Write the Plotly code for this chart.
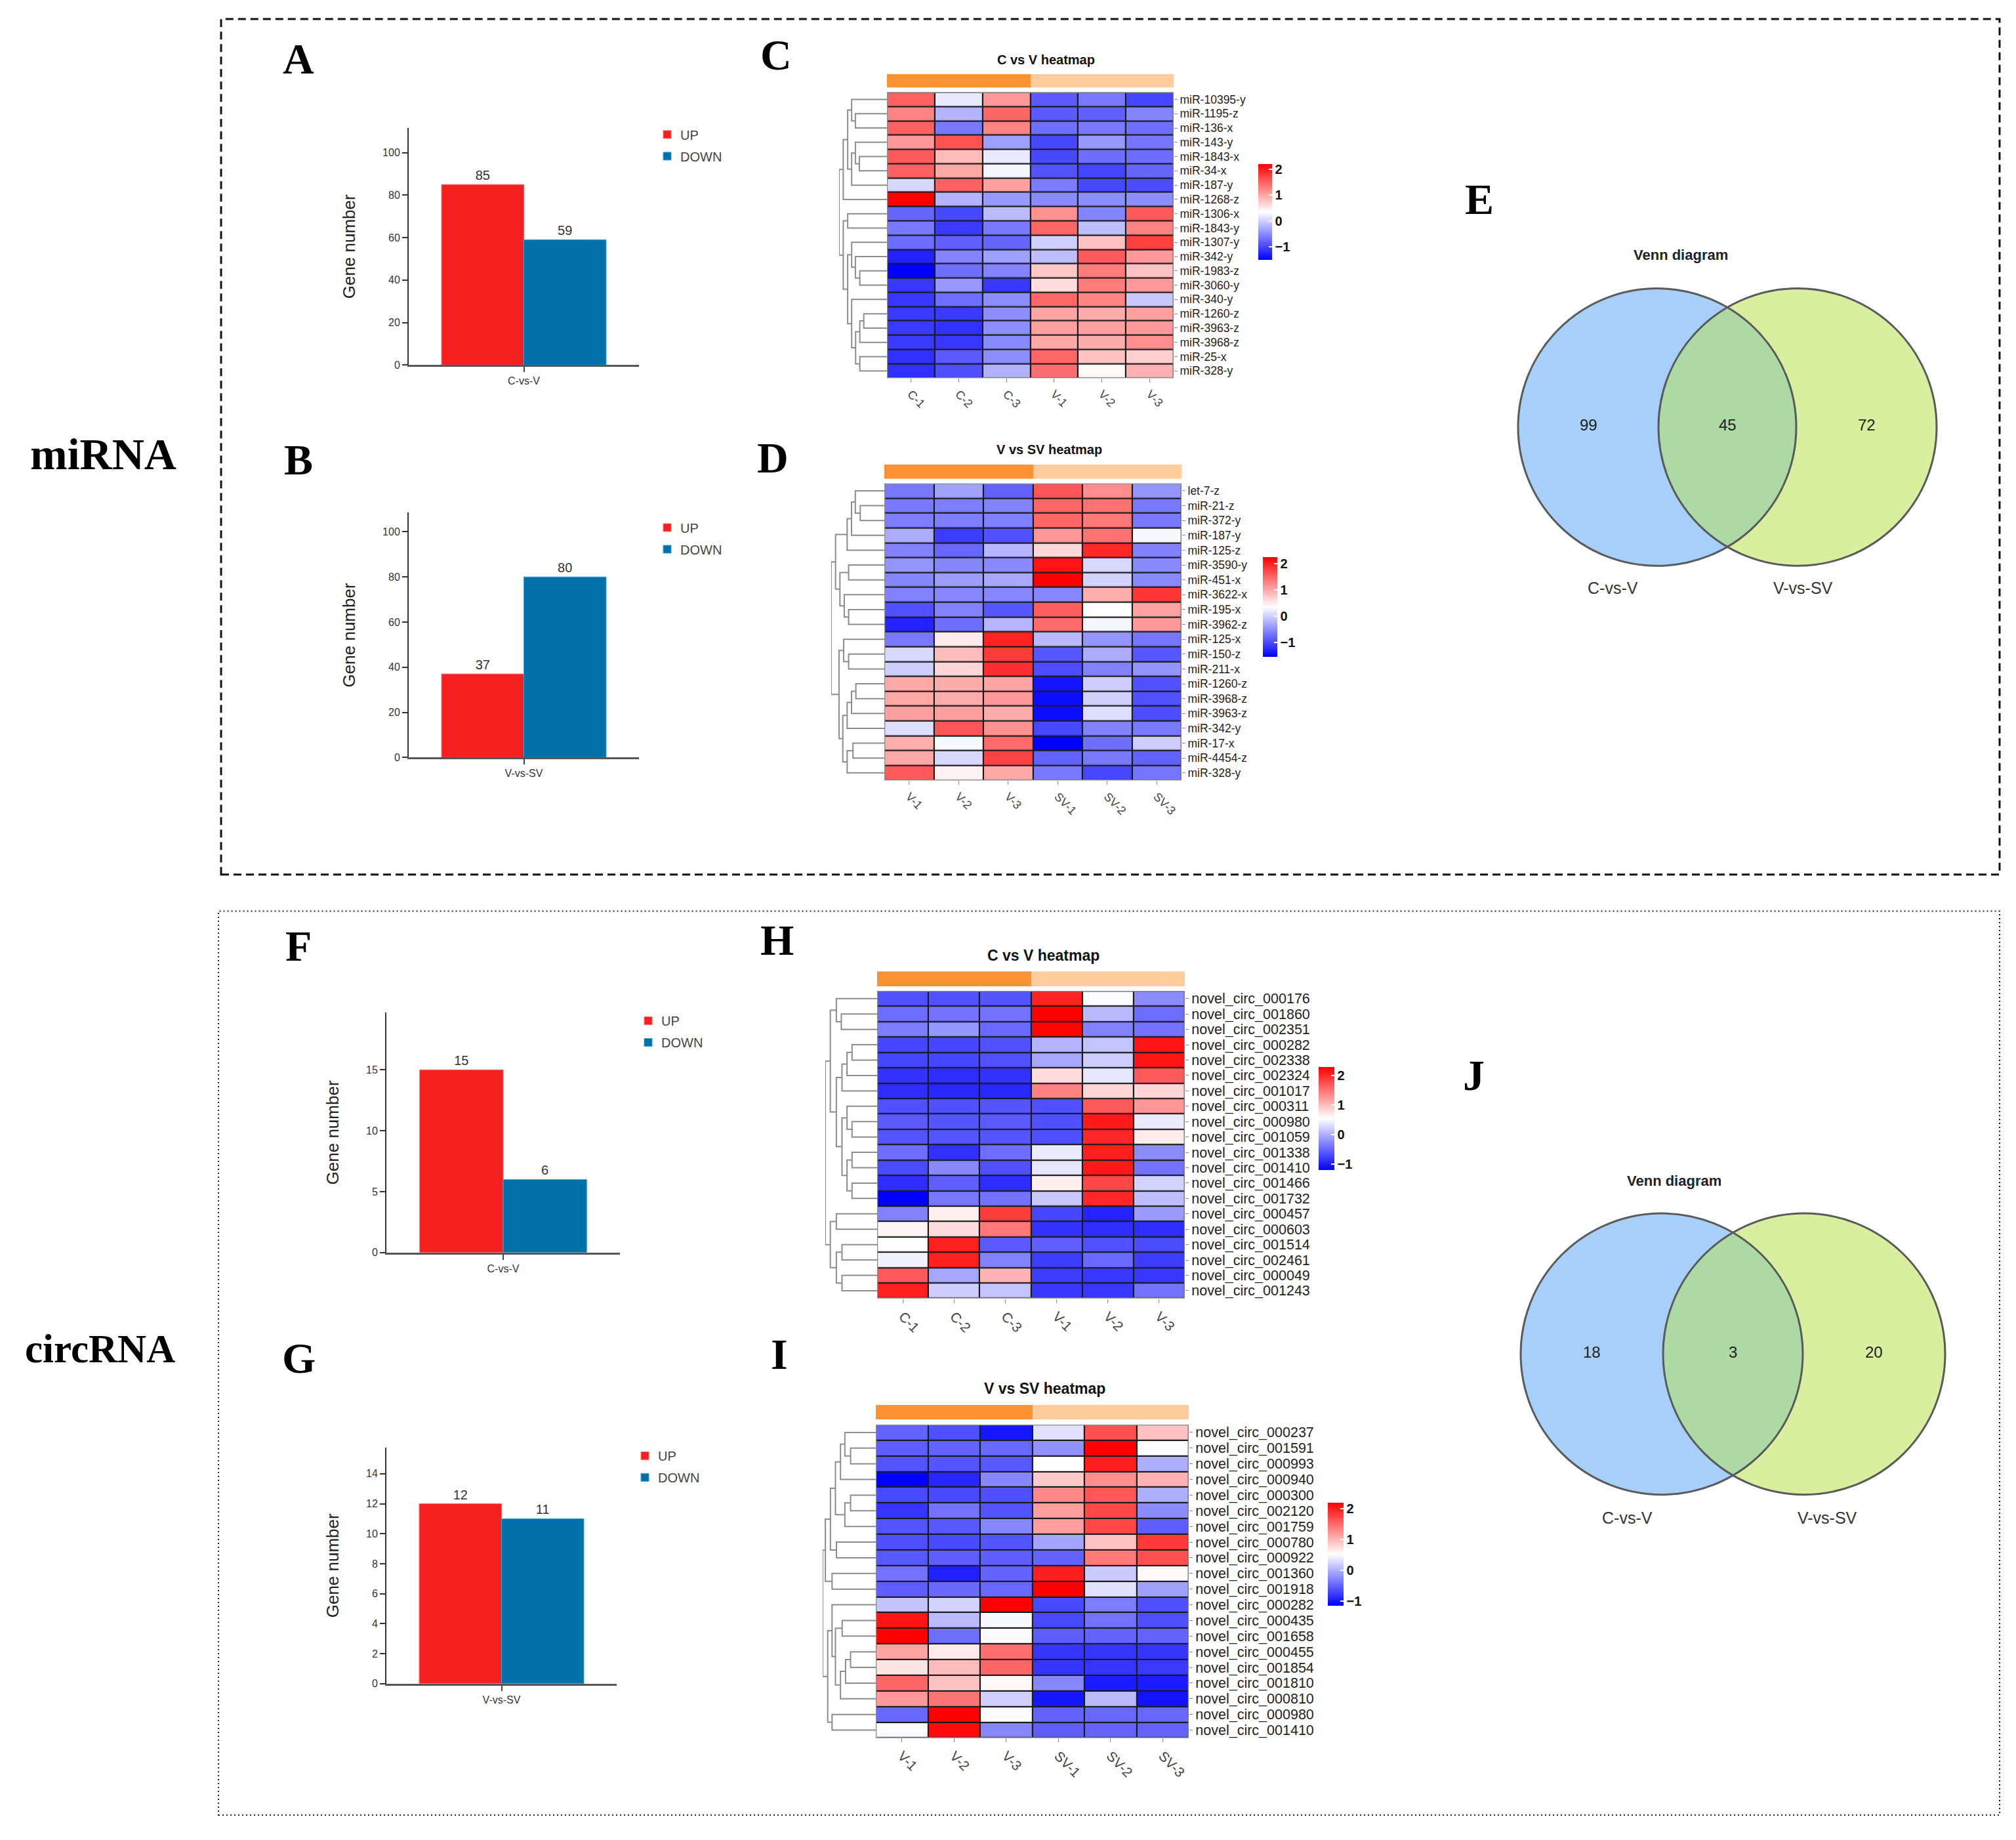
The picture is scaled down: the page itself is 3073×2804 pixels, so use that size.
import numpy as np
import plotly.graph_objects as go

W, H = 3073, 2804
OFF = 8                      # default page margin of the html body
FW, FH = W - 2 * OFF, H - 2 * OFF
def px(x): return (x - OFF) / FW
def py(y): return 1 - (y - OFF) / FH

FONT = "Liberation Sans, Arial, sans-serif"
SERIF = "Liberation Serif, Times New Roman, serif"

# ------------------------------------------------------------------ data
bar_groups = ["UP", "DOWN"]
bar_colors = ["#F41F1F", "#0070A8"]
bar_line_colors = ["#FF6E6E", "#3FA3D6"]
mirna_c_v_counts = [85, 59]
mirna_v_sv_counts = [37, 80]
circ_c_v_counts = [15, 6]
circ_v_sv_counts = [12, 11]

cols_c_v = ["C-1", "C-2", "C-3", "V-1", "V-2", "V-3"]
cols_v_sv = ["V-1", "V-2", "V-3", "SV-1", "SV-2", "SV-3"]
groups_c_v = ["C", "C", "C", "V", "V", "V"]
groups_v_sv = ["V", "V", "V", "SV", "SV", "SV"]

mirna_c_v_rows = ["miR-10395-y", "miR-1195-z", "miR-136-x", "miR-143-y", "miR-1843-x",
                  "miR-34-x", "miR-187-y", "miR-1268-z", "miR-1306-x", "miR-1843-y",
                  "miR-1307-y", "miR-342-y", "miR-1983-z", "miR-3060-y", "miR-340-y",
                  "miR-1260-z", "miR-3963-z", "miR-3968-z", "miR-25-x", "miR-328-y"]
mirna_c_v_z = [
    [1.5, 0.2, 1.1, -0.85, -0.62, -1.0],
    [1.25, -0.2, 1.45, -0.85, -0.8, -0.55],
    [1.5, -0.62, 1.25, -0.7, -0.62, -0.7],
    [1.1, 1.6, -0.35, -0.98, -0.4, -0.65],
    [1.55, 0.85, 0.2, -0.98, -0.7, -0.72],
    [1.5, 0.98, 0.28, -0.9, -1.0, -0.76],
    [0.05, 1.5, 1.05, -0.6, -0.98, -0.95],
    [2.2, -0.2, -0.4, -0.5, -0.48, -0.48],
    [-0.76, -0.98, -0.15, 1.15, -0.55, 1.55],
    [-0.62, -1.08, -0.62, 1.45, -0.12, 1.25],
    [-0.72, -0.8, -0.76, 0.0, 0.8, 1.75],
    [-1.25, -0.55, -0.35, -0.12, 1.55, 1.1],
    [-1.5, -0.7, -0.55, 0.75, 1.3, 0.8],
    [-1.1, -0.4, -1.1, 0.6, 1.3, 1.1],
    [-1.1, -0.7, -0.48, 1.45, 1.25, -0.05],
    [-1.08, -1.08, -0.48, 1.0, 0.95, 1.05],
    [-1.08, -1.15, -0.48, 1.05, 1.05, 1.08],
    [-1.08, -1.1, -0.5, 0.98, 0.95, 1.18],
    [-1.15, -0.85, -0.48, 1.45, 0.8, 0.7],
    [-1.15, -0.92, -0.22, 1.4, 0.4, 0.92],
]
mirna_c_v_tree = [[1, 2, 143], [0, 20, 160], [4, 5, 125], [3, 22, 143], [23, 6, 160],
                  [21, 24, 178], [25, 7, 198], [8, 9, 178], [12, 13, 123], [11, 28, 143],
                  [10, 29, 160], [15, 16, 105], [31, 17, 123], [18, 19, 123], [32, 33, 142],
                  [14, 34, 160], [30, 35, 178], [27, 36, 198], [26, 37, 217]]

mirna_v_sv_rows = ["let-7-z", "miR-21-z", "miR-372-y", "miR-187-y", "miR-125-z",
                   "miR-3590-y", "miR-451-x", "miR-3622-x", "miR-195-x", "miR-3962-z",
                   "miR-125-x", "miR-150-z", "miR-211-x", "miR-1260-z", "miR-3968-z",
                   "miR-3963-z", "miR-342-y", "miR-17-x", "miR-4454-z", "miR-328-y"]
mirna_v_sv_z = [
    [-0.65, -0.35, -0.82, 1.6, 1.2, -0.45],
    [-0.65, -0.62, -0.58, 1.5, 1.4, -0.65],
    [-0.62, -0.62, -0.6, 1.48, 1.35, -0.65],
    [-0.27, -1.1, -0.95, 1.15, 1.4, 0.3],
    [-0.58, -0.78, -0.2, 0.65, 1.95, -0.58],
    [-0.45, -0.55, -0.52, 2.1, 0.05, -0.52],
    [-0.55, -0.38, -0.3, 2.25, 0.02, -0.52],
    [-0.58, -0.55, -0.55, -0.55, 0.95, 1.85],
    [-0.95, -0.58, -0.9, 1.55, 0.35, 1.05],
    [-1.3, -0.72, -0.2, 1.45, 0.27, 1.1],
    [-0.65, 0.5, 2.0, -0.17, -0.45, -0.68],
    [0.05, 0.85, 1.8, -0.9, -0.27, -0.9],
    [-0.02, 0.65, 1.9, -0.98, -0.58, -0.45],
    [1.0, 0.97, 1.03, -1.4, -0.02, -0.95],
    [1.0, 0.97, 1.12, -1.45, 0.0, -0.95],
    [1.07, 1.07, 0.97, -1.45, 0.1, -0.98],
    [0.1, 1.6, 1.17, -1.02, -0.58, -0.65],
    [0.95, 0.3, 1.45, -1.55, -0.72, -0.02],
    [1.0, 0.05, 1.75, -0.82, -0.65, -0.82],
    [1.58, 0.45, 1.0, -0.65, -1.02, -0.68],
]
mirna_v_sv_tree = [[1, 2, 83], [0, 20, 100], [21, 3, 113], [22, 4, 128], [5, 6, 123],
                   [8, 9, 123], [7, 25, 138], [24, 26, 153], [23, 27, 168], [11, 12, 123],
                   [10, 29, 140], [13, 14, 98], [31, 15, 113], [32, 16, 128], [17, 18, 108],
                   [34, 19, 128], [33, 35, 143], [30, 36, 156], [28, 37, 183]]

circ_c_v_rows = ["novel_circ_000176", "novel_circ_001860", "novel_circ_002351", "novel_circ_000282",
                 "novel_circ_002338", "novel_circ_002324", "novel_circ_001017", "novel_circ_000311",
                 "novel_circ_000980", "novel_circ_001059", "novel_circ_001338", "novel_circ_001410",
                 "novel_circ_001466", "novel_circ_001732", "novel_circ_000457", "novel_circ_000603",
                 "novel_circ_001514", "novel_circ_002461", "novel_circ_000049", "novel_circ_001243"]
circ_c_v_z = [
    [-0.65, -0.65, -0.62, 2.06, 0.53, -0.24],
    [-0.45, -0.41, -0.41, 2.3, 0.07, -0.45],
    [-0.34, -0.17, -0.48, 2.27, -0.31, -0.41],
    [-0.72, -0.72, -0.65, 0.03, 0.14, 2.16],
    [-0.72, -0.72, -0.65, -0.07, 0.21, 2.16],
    [-0.86, -0.89, -0.86, 0.79, 0.38, 1.68],
    [-0.89, -0.93, -0.93, 1.41, 0.83, 0.83],
    [-0.65, -0.65, -0.62, -0.65, 1.68, 1.27],
    [-0.58, -0.62, -0.58, -0.65, 2.13, 0.41],
    [-0.62, -0.62, -0.62, -0.65, 2.03, 0.69],
    [-0.45, -0.86, -0.45, 0.41, 2.09, -0.24],
    [-0.69, -0.27, -0.65, 0.38, 2.13, -0.41],
    [-0.89, -0.55, -0.89, 0.65, 1.82, 0.24],
    [-1.2, -0.38, -0.41, 0.17, 2.03, 0.1],
    [-0.31, 0.65, 1.89, -0.72, -0.96, -0.14],
    [0.62, 0.79, 1.48, -0.86, -0.89, -0.89],
    [0.55, 2.09, -0.58, -0.55, -0.65, -0.69],
    [0.45, 2.09, -0.31, -0.79, -0.48, -0.79],
    [1.68, -0.07, 1.07, -0.79, -0.82, -0.82],
    [2.09, 0.21, 0.14, -0.82, -0.82, -0.41],
]
circ_c_v_tree = [[1, 2, 107], [0, 20, 122], [3, 4, 75], [22, 5, 90], [23, 6, 105],
                 [8, 9, 75], [7, 25, 90], [10, 11, 75], [12, 13, 75], [27, 28, 90],
                 [26, 29, 105], [24, 30, 122], [21, 31, 140], [14, 15, 122], [16, 17, 105],
                 [18, 19, 105], [34, 35, 122], [33, 36, 140], [32, 37, 155]]

circ_v_sv_rows = ["novel_circ_000237", "novel_circ_001591", "novel_circ_000993", "novel_circ_000940",
                  "novel_circ_000300", "novel_circ_002120", "novel_circ_001759", "novel_circ_000780",
                  "novel_circ_000922", "novel_circ_001360", "novel_circ_001918", "novel_circ_000282",
                  "novel_circ_000435", "novel_circ_001658", "novel_circ_000455", "novel_circ_001854",
                  "novel_circ_001810", "novel_circ_000810", "novel_circ_000980", "novel_circ_001410"]
circ_v_sv_z = [
    [-0.5, -0.63, -1.0, 0.33, 1.67, 0.93],
    [-0.53, -0.5, -0.47, -0.2, 2.2, 0.49],
    [-0.6, -0.6, -0.57, 0.52, 2.0, 0.0],
    [-1.15, -0.9, -0.27, 0.87, 1.27, 1.03],
    [-0.67, -0.67, -0.63, 1.3, 1.63, 0.0],
    [-0.8, -0.4, -0.6, 1.17, 1.73, -0.23],
    [-0.6, -0.57, -0.27, 1.17, 1.73, -0.53],
    [-0.63, -0.67, -0.6, -0.07, 0.93, 1.83],
    [-0.57, -0.53, -0.53, -0.5, 1.4, 1.67],
    [-0.4, -0.93, -0.5, 2.0, 0.17, 0.57],
    [-0.53, -0.47, -0.47, 2.2, 0.33, -0.1],
    [0.13, 0.23, 2.2, -0.67, -0.33, -0.63],
    [2.07, 0.07, 0.47, -0.67, -0.4, -0.63],
    [2.2, -0.43, 0.5, -0.53, -0.5, -0.5],
    [1.13, 0.67, 1.47, -0.8, -0.8, -0.8],
    [0.7, 0.97, 1.53, -0.8, -0.8, -0.77],
    [1.53, 0.93, 0.57, -0.27, -0.97, -0.97],
    [1.2, 1.43, 0.2, -1.0, 0.07, -1.03],
    [-0.47, 2.2, 0.5, -0.5, -0.47, -0.47],
    [0.5, 2.13, -0.27, -0.53, -0.5, -0.5],
]
circ_v_sv_tree = [[1, 2, 75], [0, 20, 92], [4, 5, 75], [22, 6, 92], [21, 3, 105],
                  [24, 23, 120], [7, 8, 117], [25, 26, 135], [9, 10, 130], [27, 28, 150],
                  [12, 13, 100], [14, 15, 75], [31, 16, 90], [32, 17, 105], [30, 33, 120],
                  [11, 34, 130], [18, 19, 130], [35, 36, 143], [29, 37, 158]]

venn_sets = ["C-vs-V", "V-vs-SV"]
venn_mirna = [99, 45, 72]   # only C-vs-V, both, only V-vs-SV
venn_circ = [18, 3, 20]

# ------------------------------------------------------------------ figure
fig = go.Figure()
layout = dict(width=FW, height=FH, margin=dict(l=0, r=0, t=0, b=0),
              paper_bgcolor="white", plot_bgcolor="white",
              barmode="group", bargap=0.285, bargroupgap=0,
              font=dict(family=FONT, color="#333"), showlegend=True)
shapes, annos = [], []

def axname(k, a):
    return f"{a}axis" if k == 1 else f"{a}axis{k}"
def axref(k, a):
    return a if k == 1 else f"{a}{k}"
def note(text, x, y, **font):
    annos.append(dict(text=text, x=px(x), y=py(y), xref="paper", yref="paper",
                      showarrow=False, xanchor="center", yanchor="middle", font=font))

# ---- bar charts
bar_panels = [
    # counts, category, x-domain px, y-domain px (top, zero), y max, dtick, legend, legend x, legend top
    (mirna_c_v_counts, "C-vs-V", (623, 974), (196, 558), 111.5, 20, "legend", 997, 186),
    (mirna_v_sv_counts, "V-vs-SV", (623, 974), (784, 1158), 108.4, 20, "legend2", 997, 787),
    (circ_c_v_counts, "C-vs-V", (589, 945), (1548, 1915), 19.7, 5, "legend3", 968, 1541),
    (circ_v_sv_counts, "V-vs-SV", (589, 940), (2213, 2574), 15.75, 2, "legend4", 963, 2206),
]
for k, (counts, cat, xd, yd, ymax, dt, leg, lx, ly) in enumerate(bar_panels, start=1):
    for j, g in enumerate(bar_groups):
        fig.add_trace(go.Bar(
            x=[cat], y=[counts[j]], name=g, text=[str(counts[j])], textposition="outside",
            textfont=dict(size=20, color="#333"), cliponaxis=False,
            marker=dict(color=bar_colors[j], line=dict(color=bar_line_colors[j], width=1)),
            xaxis=axref(k, "x"), yaxis=axref(k, "y"), legend=leg, legendgroup=f"{leg}{g}",
            hoverinfo="skip"))
    layout[axname(k, "x")] = dict(domain=[px(xd[0]), px(xd[1])], anchor=axref(k, "y"),
                                  type="category", showline=True, linecolor="#555", linewidth=3,
                                  ticks="outside", ticklen=8, tickcolor="#444", tickwidth=1.5,
                                  tickfont=dict(size=16, color="#333"), showgrid=False)
    layout[axname(k, "y")] = dict(domain=[py(yd[1]), py(yd[0])], anchor=axref(k, "x"),
                                  range=[0, ymax], dtick=dt, tick0=0, showline=True,
                                  linecolor="#333", linewidth=2, ticks="outside", ticklen=8,
                                  tickcolor="#333", tickwidth=1.5, showgrid=False, zeroline=False,
                                  tickfont=dict(size=16, color="#333"),
                                  title=dict(text="Gene number", font=dict(size=26, color="#222"),
                                             standoff=34))
    layout[leg] = dict(x=px(lx), y=py(ly), xanchor="left", yanchor="top",
                       font=dict(size=20, color="#444"), bgcolor="rgba(0,0,0,0)",
                       traceorder="grouped", tracegroupgap=4, itemwidth=30)

# ---- heatmaps
BWR = [[0, "rgb(0,0,255)"], [0.5, "rgb(255,255,255)"], [1, "rgb(255,0,0)"]]
ANN = [[0, "#FD9235"], [1, "#FECD9B"]]

def dendro_lines(tree, n):
    ypos = {i: float(i) for i in range(n)}
    hpos = {i: 0.0 for i in range(n)}
    xs, ys = [], []
    for k, (a, b, h) in enumerate(tree):
        xs += [hpos[a], h, h, hpos[b], None]
        ys += [ypos[a], ypos[a], ypos[b], ypos[b], None]
        ypos[n + k] = (ypos[a] + ypos[b]) / 2
        hpos[n + k] = h
    return xs, ys

heat_panels = [
    (mirna_c_v_rows, cols_c_v, groups_c_v, mirna_c_v_z, mirna_c_v_tree, "C vs V heatmap",
     (1352, 1789), (141, 578), (113, 134), 1279, (1594, 91), (1918, 324, 146, 21), 17.5, 18, 20),
    (mirna_v_sv_rows, cols_v_sv, groups_v_sv, mirna_v_sv_z, mirna_v_sv_tree, "V vs SV heatmap",
     (1348, 1801), (739, 1193), (710, 732), 1267, (1599, 687), (1925, 928, 152, 22), 17.5, 18, 20),
    (circ_c_v_rows, cols_c_v, groups_c_v, circ_c_v_z, circ_c_v_tree, "C vs V heatmap",
     (1337, 1806), (1515, 1985), (1485, 1508), 1258, (1590, 1461), (2010, 1710, 157, 24), 21.5, 21, 23),
    (circ_v_sv_rows, cols_v_sv, groups_v_sv, circ_v_sv_z, circ_v_sv_tree, "V vs SV heatmap",
     (1335, 1812), (2178, 2657), (2148, 2170), 1254, (1592, 2123), (2024, 2376, 157, 24), 21.5, 21, 23),
]
for i, (rows, cols, grps, z, tree, title, gx, gy, ay, rootx, tpos, cb, rfs, cfs, tfs) in enumerate(heat_panels):
    kh, ka, kd = 5 + i, 9 + i, 13 + i
    n, m = len(rows), len(cols)
    fig.add_trace(go.Heatmap(
        z=z, x=list(range(m)), y=list(range(n)), colorscale=BWR, xgap=2.2, ygap=2.2,
        xaxis=axref(kh, "x"), yaxis=axref(kh, "y"), hoverinfo="skip",
        colorbar=dict(x=px(cb[0]), xanchor="left", y=py(cb[1]), yanchor="middle",
                      len=cb[2], lenmode="pixels", thickness=cb[3], thicknessmode="pixels",
                      outlinewidth=0, xpad=0, ypad=0, tickvals=[-1, 0, 1, 2],
                      ticktext=["\u22121", "0", "1", "2"], ticks="inside", tickcolor="white",
                      ticklen=5, tickwidth=1.5,
                      tickfont=dict(size=20, color="#111", family=FONT, weight="bold"))))
    layout[axname(kh, "x")] = dict(domain=[px(gx[0]), px(gx[1])], anchor=axref(kh, "y"),
                                   range=[-0.5, m - 0.5], tickvals=list(range(m)), ticktext=cols,
                                   tickangle=45, ticks="outside", ticklen=6, tickcolor="#888",
                                   tickfont=dict(size=cfs, color="#444"), showgrid=False,
                                   zeroline=False, showline=False)
    layout[axname(kh, "y")] = dict(domain=[py(gy[1]), py(gy[0])], anchor=axref(kh, "x"),
                                   side="right", range=[n - 0.5, -0.5], tickvals=list(range(n)),
                                   ticktext=rows, ticks="outside", ticklen=5, tickcolor="#888",
                                   tickfont=dict(size=rfs, color="#222"), showgrid=False,
                                   zeroline=False, showline=False)
    shapes.append(dict(type="rect", xref=axref(kh, "x"), yref=axref(kh, "y"),
                       x0=-0.5, x1=m - 0.5, y0=-0.5, y1=n - 0.5, fillcolor="#1b1b1b",
                       line=dict(width=0), layer="below"))
    shapes.append(dict(type="rect", xref=axref(kh, "x"), yref=axref(kh, "y"),
                       x0=-0.5, x1=m - 0.5, y0=-0.5, y1=n - 0.5, fillcolor="rgba(0,0,0,0)",
                       line=dict(width=2.5, color="#8a8a8a"), layer="above"))
    uniq = []
    for g in grps:
        if g not in uniq:
            uniq.append(g)
    fig.add_trace(go.Heatmap(z=[[uniq.index(g) for g in grps]], x=list(range(m)), y=[0],
                             colorscale=ANN, showscale=False, zmin=0, zmax=1,
                             xaxis=axref(ka, "x"), yaxis=axref(ka, "y"), hoverinfo="skip"))
    layout[axname(ka, "x")] = dict(domain=[px(gx[0]), px(gx[1])], anchor=axref(ka, "y"),
                                   range=[-0.5, m - 0.5], visible=False)
    layout[axname(ka, "y")] = dict(domain=[py(ay[1]), py(ay[0])], anchor=axref(ka, "x"),
                                   range=[-0.5, 0.5], visible=False)
    xs, ys = dendro_lines(tree, n)
    fig.add_trace(go.Scatter(x=xs, y=ys, mode="lines", line=dict(color="#8c8c8c", width=2),
                             xaxis=axref(kd, "x"), yaxis=axref(kd, "y"), showlegend=False,
                             hoverinfo="skip"))
    hmax = max(t[2] for t in tree)
    layout[axname(kd, "x")] = dict(domain=[px(rootx), px(gx[0])], anchor=axref(kd, "y"),
                                   range=[hmax, 0], visible=False)
    layout[axname(kd, "y")] = dict(domain=[py(gy[1]), py(gy[0])], anchor=axref(kd, "x"),
                                   range=[n - 0.5, -0.5], visible=False)
    note(title, tpos[0], tpos[1], size=tfs, color="#111", weight="bold")

# ---- Venn diagrams
VENN_FILL = ["#A6D0F9", "#D8EF9F"]
VENN_LENS = "#ADD9A4"
venn_panels = [
    # counts, centre 1, centre 2, radius, title pos, label x (set 1, set 2), label y
    (venn_mirna, (2526, 653), (2740, 653), 212, (2562, 390), (2458, 2748), 899),
    (venn_circ, (2533, 2070), (2750, 2070), 215, (2552, 1805), (2480, 2785), 2320),
]
for counts, c1, c2, r, tpos, labx, laby in venn_panels:
    cy = c1[1]
    for (cx, _), col in zip([c1, c2], VENN_FILL):
        shapes.append(dict(type="circle", xref="paper", yref="paper",
                           x0=px(cx - r), x1=px(cx + r), y0=py(cy + r), y1=py(cy - r),
                           fillcolor=col, line=dict(width=0), layer="above"))
    halfd = (c2[0] - c1[0]) / 2
    alpha = np.arccos(halfd / r)
    t1 = np.linspace(np.pi - alpha, np.pi + alpha, 60)
    t2 = np.linspace(-alpha, alpha, 60)
    lx = np.concatenate([c2[0] + r * np.cos(t1), c1[0] + r * np.cos(t2)])
    ly = np.concatenate([cy + r * np.sin(t1), cy + r * np.sin(t2)])
    path = "M " + " L ".join(f"{px(a):.6f},{py(b):.6f}" for a, b in zip(lx, ly)) + " Z"
    shapes.append(dict(type="path", xref="paper", yref="paper", path=path,
                       fillcolor=VENN_LENS, line=dict(width=0), layer="above"))
    for cx, _ in [c1, c2]:
        shapes.append(dict(type="circle", xref="paper", yref="paper",
                           x0=px(cx - r), x1=px(cx + r), y0=py(cy + r), y1=py(cy - r),
                           fillcolor="rgba(0,0,0,0)", line=dict(width=3, color="#5a5a5a"),
                           layer="above"))
    num_x = [((c1[0] - r) + (c2[0] - r)) / 2, (c1[0] + c2[0]) / 2, ((c1[0] + r) + (c2[0] + r)) / 2]
    for nx, v in zip(num_x, counts):
        note(str(v), nx, cy - 3, size=24, color="#222")
    for sx, s in zip(labx, venn_sets):
        note(s, sx, laby, size=25, color="#333")
    note("Venn diagram", tpos[0], tpos[1], size=22, color="#222", weight="bold")

# ---- frames, panel letters, section labels
shapes.append(dict(type="rect", xref="paper", yref="paper", x0=px(337), x1=px(3048),
                   y0=py(1337), y1=py(29), fillcolor="rgba(0,0,0,0)",
                   line=dict(color="#111", width=3, dash="12px,7px"), layer="above"))
shapes.append(dict(type="rect", xref="paper", yref="paper", x0=px(333), x1=px(3048),
                   y0=py(2775), y1=py(1393), fillcolor="rgba(0,0,0,0)",
                   line=dict(color="#222", width=2, dash="2px,4px"), layer="above"))

letters = ["A", "B", "C", "D", "E", "F", "G", "H", "I", "J"]
letter_pos = [(455, 90), (455, 703), (1183, 84), (1178, 700), (2255, 304),
              (455, 1446), (455, 2076), (1184, 1437), (1188, 2070), (2246, 1644)]
for L, (x, y) in zip(letters, letter_pos):
    note(L, x, y, family=SERIF, size=66, color="#000", weight="bold")
for txt, (x, y), fs in zip(["miRNA", "circRNA"], [(157, 694), (152, 2062)], [68, 61]):
    note(txt, x, y, family=SERIF, size=fs, color="#000", weight="bold")

layout["shapes"] = shapes
layout["annotations"] = annos
fig.update_layout(**layout)
fig.write_html("out.html")
